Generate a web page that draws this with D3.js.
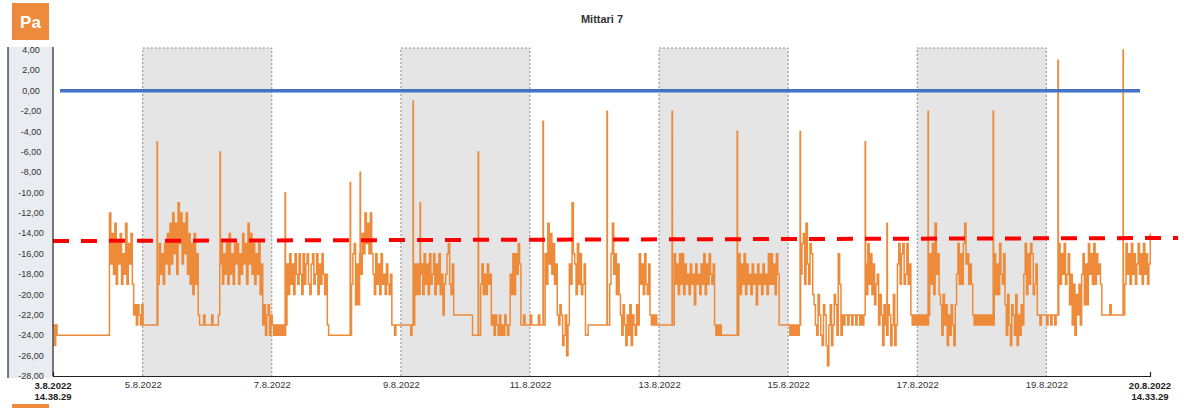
<!DOCTYPE html>
<html>
<head>
<meta charset="utf-8">
<script src="https://cdn.jsdelivr.net/npm/d3@7"></script>
<style>
  body { margin: 0; background: #fff; font-family: "Liberation Sans", Arial, sans-serif; }
</style>
</head>
<body>
<div id="chart"></div>
<script>
// Mittari 7 - pressure difference (Pa), 3.8.2022 - 20.8.2022
const startTime = new Date(2022, 7, 3, 14, 38, 29);
const endTime = new Date(2022, 7, 20, 14, 33, 29);

const yTicks = [4, 2, 0, -2, -4, -6, -8, -10, -12, -14, -16, -18, -20, -22, -24, -26, -28];
const dateTicks = ["2022-08-05", "2022-08-07", "2022-08-09", "2022-08-11",
                   "2022-08-13", "2022-08-15", "2022-08-17", "2022-08-19"];
const shadedPeriods = [
    ["2022-08-05", "2022-08-07"],
    ["2022-08-09", "2022-08-11"],
    ["2022-08-13", "2022-08-15"],
    ["2022-08-17", "2022-08-19"]
];

// Readings: [hours since start, then one value per half hour]
// a run holds its last value until the next run starts
const readings03to05 = [
    [0, -23, -25, -23, -24],
    [2, -24],
    [21, -12, -17, -14, -18, -13, -19, -15, -17, -14, -19, -16, -18, -13, -19, -15, -17, -14, -19],
    [30, -22, -21, -23, -21, -22, -23, -21, -23],
    [34, -23]
];
const readings05to07 = [
    [39, -19, -15, -18, -16, -19, -15, -17, -14, -18, -13, -17, -12, -16, -13, -18, -11,
         -15, -12, -17, -13, -16, -12, -18, -14, -19, -15, -20, -14, -19, -16],
    [54, -22, -23, -23, -23, -22, -23, -23, -23, -23, -23, -22, -23, -23, -23, -23, -22],
    [62, -17, -15, -19, -16, -18, -15, -19, -14, -18, -16, -19, -15, -17, -15, -19, -16,
         -18, -14, -17, -15, -19, -13, -17, -14, -18, -15, -19, -16, -18, -15, -20, -17],
    [78, -23, -21, -24, -22, -21, -24, -22, -23, -24, -23, -24, -23, -24, -23, -24, -23, -24, -23],
    [87, -17, -20, -16, -19, -17, -20, -16, -18, -19, -16, -18, -20, -16, -19, -17,
         -16, -19, -20, -17, -16, -19, -18, -16, -20, -17, -19, -16, -18, -20, -18],
    [102, -23, -24],
    [103, -24]
];
const readings07to11 = [
    [111, -19, -16, -15, -21, -17, -21, -16, -18],
    [115, -14, -16, -12, -15, -13, -16, -12, -16],
    [119, -18, -20, -16, -19, -17, -20, -16, -19, -18, -20, -17, -19, -20, -18],
    [126, -23, -23, -24, -23, -23, -23, -23, -23, -23, -23, -23, -23, -23, -23, -24, -23],
    [134, -19, -17, -20, -17, -20, -18],
    [137, -17, -20, -16, -19, -17, -20, -16, -19, -18, -16, -20, -17,
          -19, -16, -20, -18, -22, -19, -18, -16, -15, -19, -20, -17],
    [149, -22],
    [156, -24],
    [159, -19, -17, -20, -18, -20, -17, -19, -18],
    [163, -23, -22, -24, -22, -23, -24, -22, -24, -23, -24, -22, -23, -24, -23],
    [170, -18, -20, -16, -20, -16, -18, -15, -17],
    [174, -23, -23, -22, -23, -23, -23, -23, -22, -23, -23, -23, -23, -23, -22, -23, -23, -23, -23]
];
const readings11to15 = [
    [183, -16, -19, -13, -17, -14, -18, -15, -19, -17, -22],
    [188, -23, -21, -22, -25, -24, -22, -26, -23],
    [192, -17, -19, -11, -16, -17, -20, -15, -19, -16, -20, -19, -17],
    [198, -24, -24],
    [199, -23],
    [207, -19, -16, -13, -18, -16, -20, -17, -20],
    [211, -22, -24, -21, -23, -25, -22, -24, -21, -25, -22, -23, -24, -21, -23],
    [218, -16, -19, -17, -20, -16, -19, -20, -17],
    [222, -22, -23, -22, -23, -22, -23],
    [225, -23],
    [231, -16, -19, -17, -20, -16, -19, -16, -20, -17, -19, -18, -20, -17, -19, -18,
          -21, -17, -19, -18, -20, -17, -19, -16, -20, -17, -19, -16, -18, -19, -17],
    [246, -23, -24, -23, -24, -23, -24, -24, -24, -24, -24]
];
const readings15to17 = [
    [255, -16, -20, -17, -19, -16, -20, -17, -19, -18, -20, -17, -19, -18, -21, -17,
          -19, -18, -20, -17, -19, -18, -20, -16, -19, -16, -19, -17, -20, -16, -18],
    [270, -23],
    [274, -24, -23, -24, -23, -24, -23, -24, -23],
    [278, -18, -15, -14, -19, -13, -17, -19, -15, -16, -20],
    [283, -21, -23, -24, -20, -22, -24, -25, -21, -22, -25, -27, -23, -21, -25, -23, -20, -21, -24],
    [292, -16, -19],
    [293, -24, -22, -23, -22, -22, -23, -22, -22, -23, -22, -22, -23, -22, -22, -23, -22, -23, -22],
    [302, -17, -20, -15, -19, -16, -20, -17, -21, -19, -18],
    [307, -23, -20, -22, -25, -21, -23, -24, -21, -22, -25, -23, -20, -25, -23],
    [314, -17, -15, -19, -16, -15, -19, -18, -15, -19, -17],
    [319, -22, -23, -22, -23, -22, -23, -22, -23, -22, -23, -22, -23, -22, -23]
];
const readings17to20 = [
    [326, -16, -19, -15, -20, -13, -18, -16, -20],
    [330, -21, -24, -20, -23, -21, -25, -22, -24, -21, -23, -25, -21],
    [336, -18, -15, -19, -16, -19, -15, -13, -17, -16, -19, -17, -19],
    [342, -22, -23, -22, -23, -22, -23, -22, -23, -22, -23, -22, -23, -22, -23, -22, -23],
    [350, -16, -20, -17, -20, -15, -18, -19, -16],
    [354, -21, -24, -20, -23, -25, -21, -22, -24, -20, -25, -22, -24, -21, -23],
    [361, -18, -15, -20, -16, -19, -15, -16, -20, -19, -17],
    [366, -22, -22, -23, -22, -22, -22, -22, -23, -22, -22, -23, -22, -22, -23, -22, -22],
    [374, -15, -19, -16, -18, -15, -19, -18, -16],
    [378, -21, -18, -23, -19, -24, -20, -22, -19, -23, -18],
    [383, -16, -21, -17, -21],
    [385, -15, -18, -16, -19, -15, -19, -16, -18, -17, -19],
    [390, -22, -22, -22, -22, -22, -22, -21, -22, -22],
    [398, -16, -19, -15, -18, -16, -19, -15, -18, -16, -19, -17,
          -15, -18, -16, -19, -15, -18, -16, -19, -17, -14]
];
// short peaks: [hours since start, peak value]
const spikes = [
    [38.7, -5], [62.1, -6], [86.3, -10], [110.5, -9], [114.2, -8],
    [133.9, -1], [136.5, -11], [158.1, -6], [182.2, -3], [206.0, -2],
    [230.2, -2], [254.4, -4], [277.8, -4], [302.0, -5], [310.1, -13],
    [325.4, -2], [349.6, -2], [373.7, 3], [397.9, 4]
];

// reference lines
const limitLine = { from: "2022-08-03T17:14", to: "2022-08-20T10:50", value: 0 };
const trendLine = { from: "2022-08-03T14:38", to: "2022-08-21T01:00", values: [-14.75, -14.45] };

// ---------------------------------------------------------------
const svg = d3.select("#chart").append("svg")
    .attr("width", 1184)
    .attr("height", 408);

const x = d3.scaleTime().domain([startTime, endTime]).range([53, 1150]);
const y = d3.scaleLinear().domain([-28, 4]).range([376, 50]);
const plotTop = 48;
const step = 0.5; // hours between values inside a run
const hoursToDate = h => new Date(+startTime + h * 3600e3);

// build the step series
let points = [];
[readings03to05, readings05to07, readings07to11, readings11to15, readings15to17, readings17to20]
    .forEach(block => block.forEach(run => {
        run.slice(1).forEach((v, i) => points.push([run[0] + i * step, v]));
    }));
points.sort((a, b) => a[0] - b[0]);

function valueAt(h) {
    let v = points[0][1];
    for (const p of points) {
        if (p[0] <= h) v = p[1]; else break;
    }
    return v;
}
const spikePoints = [];
spikes.forEach(([h, peak]) => {
    const base = valueAt(h);
    spikePoints.push([h, peak], [h + 0.15, base]);
});
points = points.concat(spikePoints).sort((a, b) => a[0] - b[0]);

// Pa badge
svg.append("rect")
    .attr("x", 12).attr("y", 3)
    .attr("width", 37).attr("height", 37)
    .attr("fill", "#ed8a3b");
svg.append("text")
    .attr("x", 30.5).attr("y", 27.5)
    .attr("text-anchor", "middle")
    .style("font-size", "17px")
    .style("font-weight", "bold")
    .style("fill", "#fff")
    .text("Pa");
// legend box, cut off by the bottom edge
svg.append("rect")
    .attr("x", 12).attr("y", 404)
    .attr("width", 37).attr("height", 20)
    .attr("fill", "#ed8a3b");

// title
svg.append("text")
    .attr("x", 602).attr("y", 23)
    .attr("text-anchor", "middle")
    .style("font-size", "11px")
    .style("font-weight", "bold")
    .style("fill", "#333")
    .text("Mittari 7");

// y axis panel
svg.append("rect")
    .attr("x", 8).attr("y", plotTop - 1)
    .attr("width", 45).attr("height", 378 - plotTop + 1)
    .attr("fill", "#e9ecf0");
svg.append("line")
    .attr("x1", 8).attr("x2", 8)
    .attr("y1", plotTop - 1).attr("y2", 378)
    .attr("stroke", "#222").attr("stroke-width", 1.2);

svg.append("g")
    .selectAll("text")
    .data(yTicks)
    .enter()
    .append("text")
    .attr("x", 31)
    .attr("y", d => y(d) + 3)
    .attr("text-anchor", "middle")
    .style("font-size", "9px")
    .style("fill", "#333")
    .text(d => d3.format(".2f")(d).replace(".", ",").replace("−", "-"));

// shaded periods
svg.append("g")
    .selectAll("path")
    .data(shadedPeriods)
    .enter()
    .append("path")
    .attr("d", d => {
        const x0 = x(new Date(d[0] + "T00:00")), x1 = x(new Date(d[1] + "T00:00"));
        return `M${x0},${y(-28)}V${plotTop}H${x1}V${y(-28)}Z`;
    })
    .attr("fill", "#e5e5e5");
svg.append("g")
    .selectAll("path")
    .data(shadedPeriods)
    .enter()
    .append("path")
    .attr("d", d => {
        const x0 = x(new Date(d[0] + "T00:00")), x1 = x(new Date(d[1] + "T00:00"));
        return `M${x0},${y(-28)}V${plotTop}H${x1}V${y(-28)}`;
    })
    .attr("fill", "none")
    .attr("stroke", "#8a8a8a")
    .attr("stroke-width", 1)
    .attr("stroke-dasharray", "2,2");

// measurement line
const line = d3.line()
    .x(d => x(hoursToDate(d[0])))
    .y(d => y(d[1]))
    .curve(d3.curveStepAfter);

svg.append("path")
    .datum(points)
    .attr("d", line)
    .attr("fill", "none")
    .attr("stroke", "#ed8b3b")
    .attr("stroke-width", 1.5);

// limit line (0 Pa)
svg.append("line")
    .attr("x1", x(new Date(limitLine.from)))
    .attr("x2", x(new Date(limitLine.to)))
    .attr("y1", y(limitLine.value))
    .attr("y2", y(limitLine.value))
    .attr("stroke", "#4472c4")
    .attr("stroke-width", 3.5);

// trend line
svg.append("line")
    .attr("x1", x(new Date(trendLine.from)))
    .attr("x2", x(new Date(trendLine.to)))
    .attr("y1", y(trendLine.values[0]))
    .attr("y2", y(trendLine.values[1]))
    .attr("stroke", "#ff0000")
    .attr("stroke-width", 4)
    .attr("stroke-dasharray", "16,12");

// axis lines
svg.append("line")
    .attr("x1", 53).attr("x2", 53)
    .attr("y1", plotTop - 1).attr("y2", y(-28))
    .attr("stroke", "#222").attr("stroke-width", 1.2);

const xAxis = svg.append("g")
    .attr("transform", `translate(0,${y(-28)})`)
    .call(d3.axisBottom(x)
        .tickValues(dateTicks.map(d => new Date(d + "T00:00")))
        .tickFormat(d3.timeFormat("%-d.%-m.%Y"))
        .tickSize(0)
        .tickSizeOuter(-4)
        .tickPadding(5));
xAxis.select(".domain").attr("stroke", "#222").attr("stroke-width", 1.2);
xAxis.selectAll("text")
    .style("font-size", "9.5px")
    .style("font-family", "'Liberation Sans', Arial, sans-serif")
    .style("fill", "#333");

// first and last timestamps
const endLabels = [
    { t: startTime, date: "3.8.2022", time: "14.38.29" },
    { t: endTime, date: "20.8.2022", time: "14.33.29" }
];
endLabels.forEach(d => {
    const g = svg.append("text")
        .attr("text-anchor", "middle")
        .style("font-size", "9.5px")
        .style("font-weight", "bold")
        .style("fill", "#222");
    g.append("tspan").attr("x", x(d.t)).attr("y", 389).text(d.date);
    g.append("tspan").attr("x", x(d.t)).attr("y", 400).text(d.time);
});
</script>
</body>
</html>
